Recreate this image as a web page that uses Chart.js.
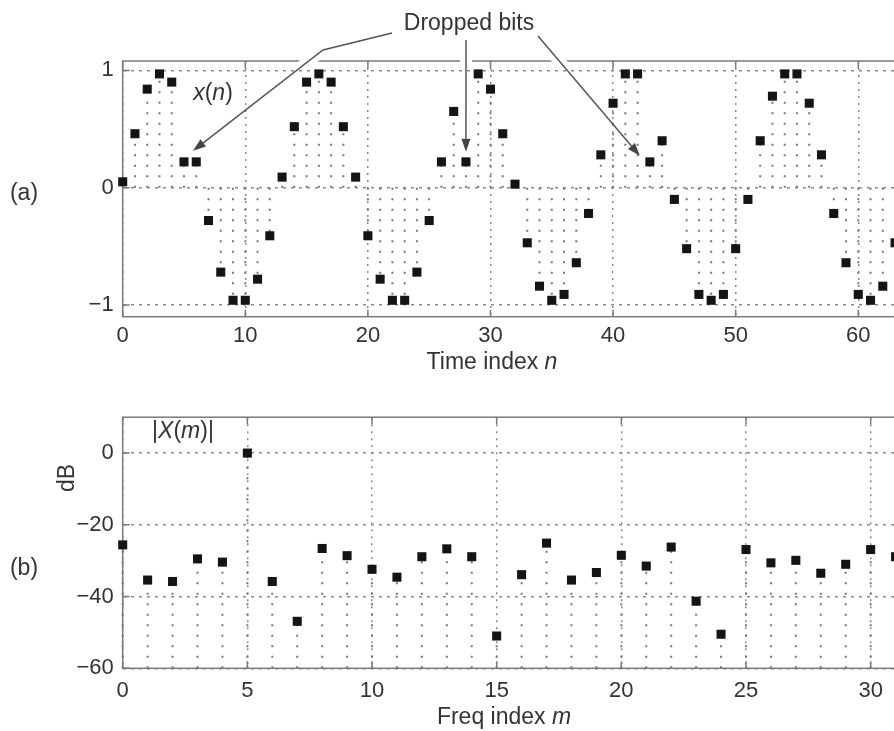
<!DOCTYPE html>
<html>
<head>
<meta charset="utf-8">
<script src="https://cdn.jsdelivr.net/npm/chart.js@4.4.1/dist/chart.umd.min.js"></script>
<style>
  html, body { margin: 0; padding: 0; background: #fff; width: 894px; height: 731px; overflow: hidden; }
  #page { position: relative; width: 894px; height: 731px; overflow: hidden; }
  canvas { position: absolute; left: 0; }
  .lbl { position: absolute; transform: translate(-50%, -50%); font-family: "Liberation Sans", Arial, sans-serif;
         font-size: 23px; color: #333; white-space: nowrap; line-height: 1; }
</style>
</head>
<body>
<div id="page">
  <canvas id="timeChart" width="930" height="385" style="top:0"></canvas>
  <canvas id="freqChart" width="930" height="335" style="top:395px"></canvas>

  <div class="lbl" style="left:24px;top:192px">(a)</div>
  <div class="lbl" style="left:24px;top:567px">(b)</div>
  <div class="lbl" style="left:469px;top:22px">Dropped bits</div>
  <div class="lbl" style="left:213px;top:92px"><i>x</i>(<i>n</i>)</div>
  <div class="lbl" style="left:183px;top:430px">|<i>X</i>(<i>m</i>)|</div>
  <div class="lbl" style="left:492px;top:361px">Time index <i>n</i></div>
  <div class="lbl" style="left:504px;top:716px">Freq index <i>m</i></div>
  <div class="lbl" style="left:66px;top:478px;transform:translate(-50%,-50%) rotate(-90deg)">dB</div>
</div>

<script>
// ---- data ----
const nIdx = [0, 1, 2, 3, 4, 5, 6, 7, 8, 9, 10, 11, 12, 13, 14, 15, 16, 17, 18, 19, 20, 21, 22, 23,
  24, 25, 26, 27, 28, 29, 30, 31, 32, 33, 34, 35, 36, 37, 38, 39, 40, 41, 42, 43, 44, 45, 46, 47,
  48, 49, 50, 51, 52, 53, 54, 55, 56, 57, 58, 59, 60, 61, 62, 63];
const xn = [0.05, 0.46, 0.84, 0.97, 0.90, 0.22, 0.22, -0.28, -0.72, -0.96, -0.96, -0.78, -0.41, 0.09,
  0.52, 0.90, 0.97, 0.90, 0.52, 0.09, -0.41, -0.78, -0.96, -0.96, -0.72, -0.28, 0.22, 0.65, 0.22, 0.97,
  0.84, 0.46, 0.03, -0.47, -0.84, -0.96, -0.91, -0.64, -0.22, 0.28, 0.72, 0.97, 0.97, 0.22, 0.40, -0.10,
  -0.52, -0.91, -0.96, -0.91, -0.52, -0.10, 0.40, 0.78, 0.97, 0.97, 0.72, 0.28, -0.22, -0.64, -0.91,
  -0.96, -0.84, -0.47];
const nTicks = [0, 10, 20, 30, 40, 50, 60];
const xnTicks = [-1, 0, 1];
const droppedIdx = [5, 28, 43];

const mIdx = [0, 1, 2, 3, 4, 5, 6, 7, 8, 9, 10, 11, 12, 13, 14, 15, 16, 17, 18, 19, 20, 21, 22, 23,
  24, 25, 26, 27, 28, 29, 30, 31];
const XdB = [-25.6, -35.4, -35.8, -29.5, -30.4, 0, -35.8, -46.9, -26.6, -28.6, -32.4, -34.6, -28.9,
  -26.7, -28.9, -51.0, -33.9, -25.1, -35.4, -33.3, -28.5, -31.5, -26.2, -41.3, -50.5, -26.9, -30.6,
  -29.9, -33.5, -31.0, -26.9, -28.9];
const mTicks = [0, 5, 10, 15, 20, 25, 30];
const dbTicks = [-60, -40, -20, 0];

const FONT = '"Liberation Sans", Arial, sans-serif';
const GRID = '#8a8a8a';

// dotted stems from a base level up/down to each marker
const stemPlugin = {
  id: 'stems',
  beforeDatasetsDraw(chart, args, opts) {
    const ctx = chart.ctx;
    const yBase = chart.scales.y.getPixelForValue(opts.base);
    ctx.save();
    ctx.setLineDash([2, 8.5]);
    ctx.strokeStyle = '#777';
    ctx.lineWidth = 2;
    ctx.beginPath();
    chart.getDatasetMeta(0).data.forEach(pt => {
      ctx.moveTo(pt.x, yBase);
      ctx.lineTo(pt.x, pt.y);
    });
    ctx.stroke();
    ctx.restore();
  }
};

// box round the axes, with inward tick marks
const framePlugin = {
  id: 'frame',
  beforeDatasetsDraw(chart) {
    const { ctx, chartArea: a, scales } = chart;
    ctx.save();
    ctx.strokeStyle = '#7a7a7a';
    ctx.lineWidth = 1.5;
    ctx.strokeRect(a.left, a.top, a.right - a.left, a.bottom - a.top);
    ctx.beginPath();
    scales.x.ticks.forEach(t => {
      const x = scales.x.getPixelForValue(t.value);
      ctx.moveTo(x, a.bottom); ctx.lineTo(x, a.bottom - 7);
      ctx.moveTo(x, a.top); ctx.lineTo(x, a.top + 7);
    });
    scales.y.ticks.forEach(t => {
      const y = scales.y.getPixelForValue(t.value);
      ctx.moveTo(a.left, y); ctx.lineTo(a.left + 7, y);
    });
    ctx.stroke();
    ctx.restore();
  }
};

// "Dropped bits" arrows (top panel only)
const arrowStarts = [[[392, 33], [323, 50]], [[466, 40]], [[538, 36]]];
const tipOffsets = [[9, -11], [0, -10], [-10, -6]];
const arrowPlugin = {
  id: 'arrows',
  afterDraw(chart) {
    const ctx = chart.ctx;
    const pts = chart.getDatasetMeta(0).data;
    const top = chart.chartArea.top;
    arrowStarts.forEach((path, k) => {
      const p = pts[droppedIdx[k]];
      const tip = [p.x + tipOffsets[k][0], p.y + tipOffsets[k][1]];
      const all = path.concat([tip]);
      const prev = all[all.length - 2];
      const ang = Math.atan2(tip[1] - prev[1], tip[0] - prev[0]);
      const L = 13, W = 4.5;
      const base = [tip[0] - L * Math.cos(ang), tip[1] - L * Math.sin(ang)];
      const line = (pts2) => {
        ctx.beginPath();
        ctx.moveTo(pts2[0][0], pts2[0][1]);
        pts2.slice(1).forEach(q => ctx.lineTo(q[0], q[1]));
        ctx.stroke();
      };
      // white gap where the arrow crosses the top border
      ctx.save();
      ctx.beginPath();
      ctx.rect(0, top - 5, chart.width, 10);
      ctx.clip();
      ctx.strokeStyle = '#fff';
      ctx.lineWidth = 12;
      line(all);
      ctx.restore();

      ctx.save();
      ctx.strokeStyle = '#555';
      ctx.lineWidth = 1.5;
      line(path.concat([base]));
      ctx.fillStyle = '#444';
      ctx.beginPath();
      ctx.moveTo(tip[0], tip[1]);
      ctx.lineTo(base[0] - W * Math.sin(ang), base[1] + W * Math.cos(ang));
      ctx.lineTo(base[0] + W * Math.sin(ang), base[1] - W * Math.cos(ang));
      ctx.closePath();
      ctx.fill();
      ctx.restore();
    });
  }
};

function stemChart(id, xs, ys, cfg, extraPlugins) {
  const minus = v => String(v).replace('-', '\u2212');
  return new Chart(document.getElementById(id), {
    type: 'scatter',
    data: {
      datasets: [{
        data: xs.map((x, i) => ({ x, y: ys[i] })),
        pointStyle: 'rect',
        pointRadius: 6.4,
        pointHoverRadius: 6.4,
        backgroundColor: '#141414',
        borderWidth: 0,
        clip: false
      }]
    },
    options: {
      responsive: false,
      devicePixelRatio: 1,
      animation: false,
      events: [],
      layout: { padding: cfg.pad },
      plugins: { legend: { display: false }, tooltip: { enabled: false }, stems: { base: cfg.base } },
      scales: {
        x: {
          type: 'linear', min: cfg.xMin, max: cfg.xMax,
          afterBuildTicks: s => { s.ticks = cfg.xTicks.map(v => ({ value: v })); },
          afterFit: s => { s.height = cfg.xHeight; },
          grid: { color: GRID, lineWidth: 1.5, drawTicks: false },
          border: { display: false, dash: [2, 5] },
          ticks: { color: '#333', font: { family: FONT, size: 22 }, padding: cfg.xPad, maxRotation: 0, autoSkip: false }
        },
        y: {
          type: 'linear', min: cfg.yMin, max: cfg.yMax,
          afterBuildTicks: s => { s.ticks = cfg.yTicks.map(v => ({ value: v })); },
          afterFit: s => { s.width = 122.7; },
          grid: { color: GRID, lineWidth: 1.5, drawTicks: false },
          border: { display: false, dash: [3, 5] },
          ticks: { color: '#333', font: { family: FONT, size: 22 }, padding: 9, callback: minus }
        }
      }
    },
    plugins: [stemPlugin, framePlugin].concat(extraPlugins)
  });
}

stemChart('timeChart', nIdx, xn, {
  xMin: 0, xMax: 64, yMin: -1.1, yMax: 1.08, xTicks: nTicks, yTicks: xnTicks,
  base: 0, xHeight: 68.3, xPad: 6, pad: { top: 61, left: 0, right: 22.7, bottom: 0 }
}, [arrowPlugin]);

stemChart('freqChart', mIdx, XdB, {
  xMin: 0, xMax: 32, yMin: -60, yMax: 10, xTicks: mTicks, yTicks: dbTicks,
  base: -60, xHeight: 61.7, xPad: 9, pad: { top: 17.7, left: 0, right: 9.5, bottom: 0 }
}, []);
</script>
</body>
</html>
